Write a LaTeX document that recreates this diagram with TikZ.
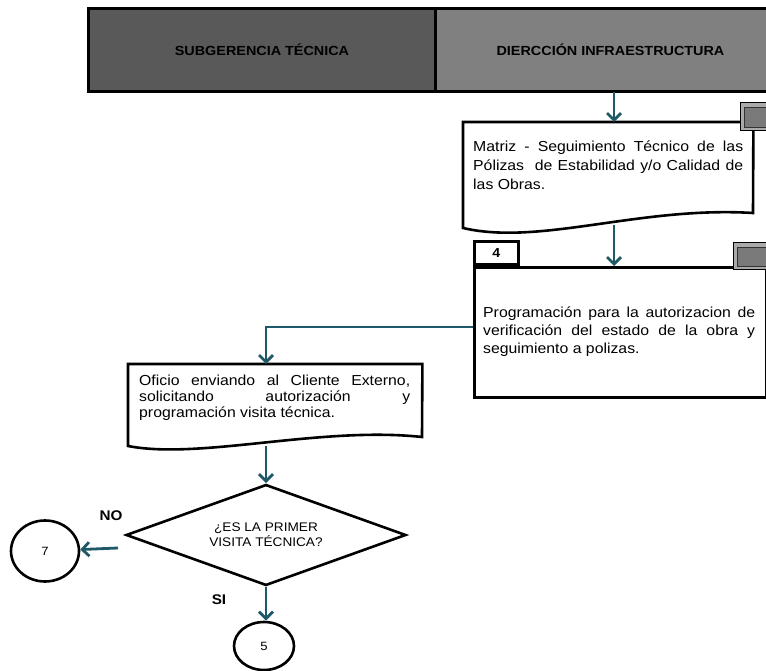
\documentclass[tikz,border=0pt]{standalone}
\usepackage{fontspec}
\setmainfont{Liberation Sans}[FakeStretch=1.09]
\usetikzlibrary{arrows.meta,shapes.geometric,calc}
\definecolor{flow}{RGB}{31,89,104}
\definecolor{hdark}{RGB}{89,89,89}
\definecolor{hlight}{RGB}{128,128,128}
\definecolor{btnface}{RGB}{122,122,122}
\definecolor{btnedge}{RGB}{170,170,170}
\begin{document}
\begin{tikzpicture}[x=1pt,y=-1pt,
  flowarrow/.style={draw=flow,line width=2.8pt,-{Straight Barb[length=7pt,width=14pt]}},
  shapeline/.style={draw=black,line width=2.6pt},
  hcell/.style={draw=black,line width=3pt,minimum height=83pt,inner sep=0pt,
    font=\fontsize{13.2}{15}\selectfont\bfseries},
  bodytext/.style={inner sep=0pt,text width=#1,align=justify},
  btnouter/.style={draw=black,line width=1pt,fill=btnedge},
  btninner/.style={draw=black!80,line width=0.8pt,fill=btnface},
  endcircle/.style={ellipse,draw=black,line width=2.6pt,inner sep=0pt,
    font=\fontsize{12}{14}\selectfont},
  lbl/.style={font=\fontsize{14}{16}\selectfont\bfseries,inner sep=0pt}
]
\useasboundingbox (0,0) rectangle (766,671);
\clip (0,0) rectangle (766,671);

% header
\node[hcell,fill=hdark,minimum width=347pt,anchor=north west] (hsub) at (87,7) {SUBGERENCIA TÉCNICA};
\node[hcell,fill=hlight,minimum width=350pt,anchor=north west] (hinf) at (434,7) {DIERCCIÓN INFRAESTRUCTURA};

% document 1
\node[minimum width=290pt,minimum height=106pt,inner sep=0pt,anchor=north west] (d1) at (463,122) {};
\draw[shapeline] (d1.north east) -- (d1.north west) -- (463,228)
  .. controls (540,246) and (640,206) .. (753,213) -- cycle;
\node[bodytext=270pt,anchor=north west,font=\fontsize{14.5}{19}\selectfont] (d1t) at (473,141)
  {Matriz - Seguimiento Técnico de las\linebreak Pólizas\ \ de Estabilidad y/o Calidad de\linebreak las Obras.};
\draw[btnouter] (740,103) rectangle (772,131);
\draw[btninner] (744,107) rectangle (772,127);

% box 4
\node[shapeline,fill=white,anchor=north west,minimum width=292pt,minimum height=130pt,inner sep=0pt] (b4) at (473,266) {};
\node[bodytext=272pt,anchor=north west,font=\fontsize{14.5}{18}\selectfont] (b4t) at (483,307)
  {Programación para la autorizacion de\linebreak verificación del estado de la obra y\linebreak seguimiento a polizas.};
\node[shapeline,anchor=south west,minimum width=44pt,minimum height=23pt,inner sep=0pt,
  font=\fontsize{13}{15}\selectfont\bfseries] (t4) at (b4.north west) {4};
\draw[btnouter] (733,243) rectangle (772,270);
\draw[btninner] (737,247) rectangle (772,266);

% document 2
\node[minimum width=294pt,minimum height=83pt,inner sep=0pt,anchor=north west] (d2) at (128,364) {};
\draw[shapeline] (d2.north east) -- (d2.north west) -- (128,446)
  .. controls (200,460) and (320,426) .. (422,437) -- cycle;
\node[bodytext=271pt,anchor=north west,font=\fontsize{14.5}{16}\selectfont] (d2t) at (139,375)
  {Oficio enviando al Cliente Externo,\linebreak solicitando autorización y\linebreak programación visita técnica.};

% decision
\node[diamond,shapeline,minimum width=280pt,minimum height=101pt,inner sep=0pt,aspect=2.77,
  align=center,font=\fontsize{12.5}{15}\selectfont] (dm) at (266,535)
  {¿ES LA PRIMER\\VISITA TÉCNICA?};

% connectors
\node[endcircle,minimum width=68pt,minimum height=61pt] (c7) at (45,551) {7};
\node[endcircle,minimum width=60pt,minimum height=48pt] (c5) at (264,646) {5};
\node[lbl] (lno) at (111,516) {NO};
\node[lbl] (lsi) at (219,600) {SI};

\coordinate (a1) at (614,92);
\draw[flowarrow] (a1) -- (a1 |- d1.north);
\coordinate (a2) at (614,225);
\draw[flowarrow] (a2) -- (a2 |- b4.north);
\draw[flowarrow] ($(b4.north west)+(0,61)$) -| ($(d2.north west)+(138,0)$);
\coordinate (a4) at (266,446);
\draw[flowarrow] (a4) -- (dm.north);
\coordinate (nostart) at (118,548);
\draw[flowarrow] (nostart) -- (c7);
\draw[flowarrow] (dm.south) -- (dm.south |- c5.north);
\end{tikzpicture}
\end{document}
